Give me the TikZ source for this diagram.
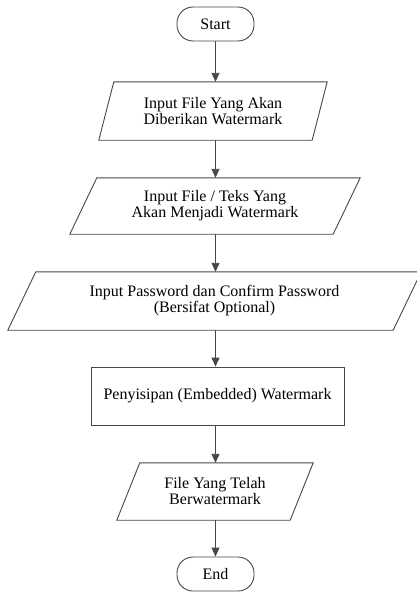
\documentclass[tikz,border=0pt]{standalone}
\usepackage{fontspec}
\setmainfont{Liberation Serif}
\usetikzlibrary{arrows.meta}
\tikzset{
  line/.style={draw=black!72, line width=0.9pt},
  txt/.style={font=\fontsize{16pt}{16pt}\selectfont, align=center, inner sep=0pt},
  term/.style={txt, line, rounded corners=16pt, minimum width=77pt, minimum height=34pt},
  proc/.style={txt, line, minimum width=253pt, minimum height=58pt},
  iobox/.style={txt},
  arr/.style={line, -{Triangle[length=9pt,width=8pt]}}
}
% parallelogram drawn on the frame of a named node: #1 node, #2 slant
\newcommand\ioframe[2]{%
  \draw[line] ([xshift=#2]#1.north west) -- (#1.north east)
    -- ([xshift=-#2]#1.south east) -- (#1.south west) -- cycle;}
\begin{document}
\begin{tikzpicture}[x=1pt,y=-1pt]
  \useasboundingbox (0,0) rectangle (417,594);

  \node[term] (start) at (215.5,24) {Start};
  \node[iobox, minimum width=228pt, minimum height=58pt] (in1) at (213,111)
    {Input File Yang Akan\\Diberikan Watermark};
  \node[iobox, minimum width=290pt, minimum height=56pt] (in2) at (215,206)
    {Input File / Teks Yang\\Akan Menjadi Watermark};
  \node[iobox, minimum width=413pt, minimum height=58pt] (in3) at (214.5,301)
    {Input Password dan Confirm Password\\(Bersifat Optional)};
  \node[proc] (embed) at (217.5,396) {Penyisipan (Embedded) Watermark};
  \node[iobox, minimum width=196pt, minimum height=57pt] (out) at (215,491.5)
    {File Yang Telah\\Berwatermark};
  \node[term] (end) at (215.5,574) {End};

  \ioframe{in1}{15pt}
  \ioframe{in2}{27pt}
  \ioframe{in3}{28pt}
  \ioframe{out}{23pt}

  \draw[arr] (start.south) -- (start.south |- in1.north);
  \draw[arr] (start.south |- in1.south) -- (start.south |- in2.north);
  \draw[arr] (start.south |- in2.south) -- (start.south |- in3.north);
  \draw[arr] (start.south |- in3.south) -- (start.south |- embed.north);
  \draw[arr] (start.south |- embed.south) -- (start.south |- out.north);
  \draw[arr] (start.south |- out.south) -- (end.north);
\end{tikzpicture}
\end{document}
